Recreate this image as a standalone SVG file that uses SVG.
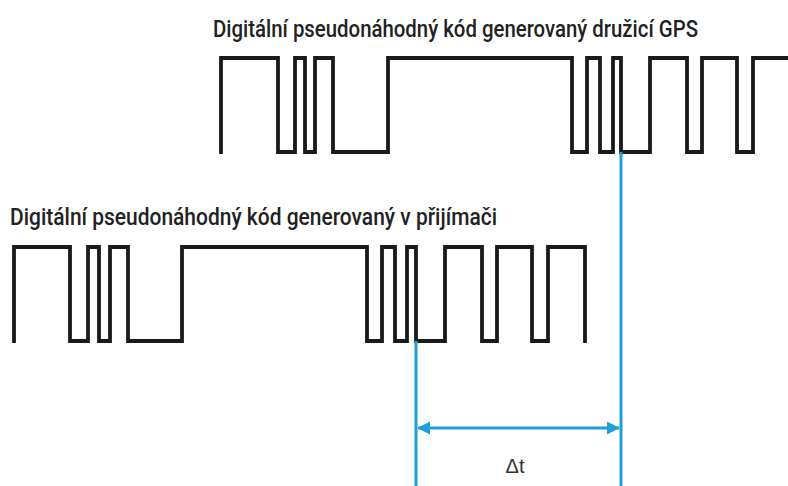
<svg xmlns="http://www.w3.org/2000/svg" width="788" height="486" viewBox="0 0 788 486">
  <style>
    .label { font-family: "Roboto", "DejaVu Sans Condensed", "Liberation Sans", sans-serif; font-weight: 500; font-size: 24px; fill: #222; }
    .wave { fill: none; stroke: #1a1a1a; stroke-width: 3.8; stroke-linejoin: miter; stroke-linecap: butt; }
    .marker-line { fill: none; stroke: #1e9fda; stroke-width: 3; }
    .delta { font-family: "Liberation Sans", Arial, sans-serif; font-size: 20px; fill: #333; text-anchor: middle; }
  </style>
  <defs>
    <marker id="arrowHead" viewBox="0 0 14 14" refX="13" refY="7" markerWidth="13" markerHeight="13" markerUnits="userSpaceOnUse" orient="auto-start-reverse">
      <path d="M0,0 L14,7 L0,14 Z" fill="#1e9fda"/>
    </marker>
  </defs>
  <rect width="788" height="486" fill="#ffffff"/>

  <!-- satellite code -->
  <g id="satellite-code">
    <text class="label" x="213" y="37" textLength="485" lengthAdjust="spacingAndGlyphs">Digitální pseudonáhodný kód generovaný družicí GPS</text>
    <path class="wave" d="M221,154 V58 H278 V152 H295 V58 H305 V152 H315 V58 H333 V152 H388 V58 H572 V152 H587 V58 H600 V152 H613 V58 H621 V152 H650 V58 H687 V152 H702 V58 H737 V152 H753 V58 H792"/>
  </g>

  <!-- receiver code -->
  <g id="receiver-code">
    <text class="label" x="10" y="225" textLength="487" lengthAdjust="spacingAndGlyphs">Digitální pseudonáhodný kód generovaný v přijímači</text>
    <path class="wave" d="M14,343 V247 H70 V341 H88 V247 H99 V341 H110 V247 H128 V341 H182 V247 H367 V341 H382 V247 H395 V341 H407 V247 H416 V341 H445 V247 H482 V341 H497 V247 H532 V341 H548 V247 H585 V343"/>
  </g>

  <!-- time offset markers -->
  <g id="connectors">
    <line class="marker-line" x1="416" y1="341" x2="416" y2="486"/>
    <line class="marker-line" x1="621" y1="152" x2="621" y2="486"/>
    <line class="marker-line" x1="418" y1="428" x2="619" y2="428" marker-start="url(#arrowHead)" marker-end="url(#arrowHead)"/>
  </g>
  <g id="delta-label">
    <text class="delta" x="515" y="473">Δt</text>
  </g>
</svg>
